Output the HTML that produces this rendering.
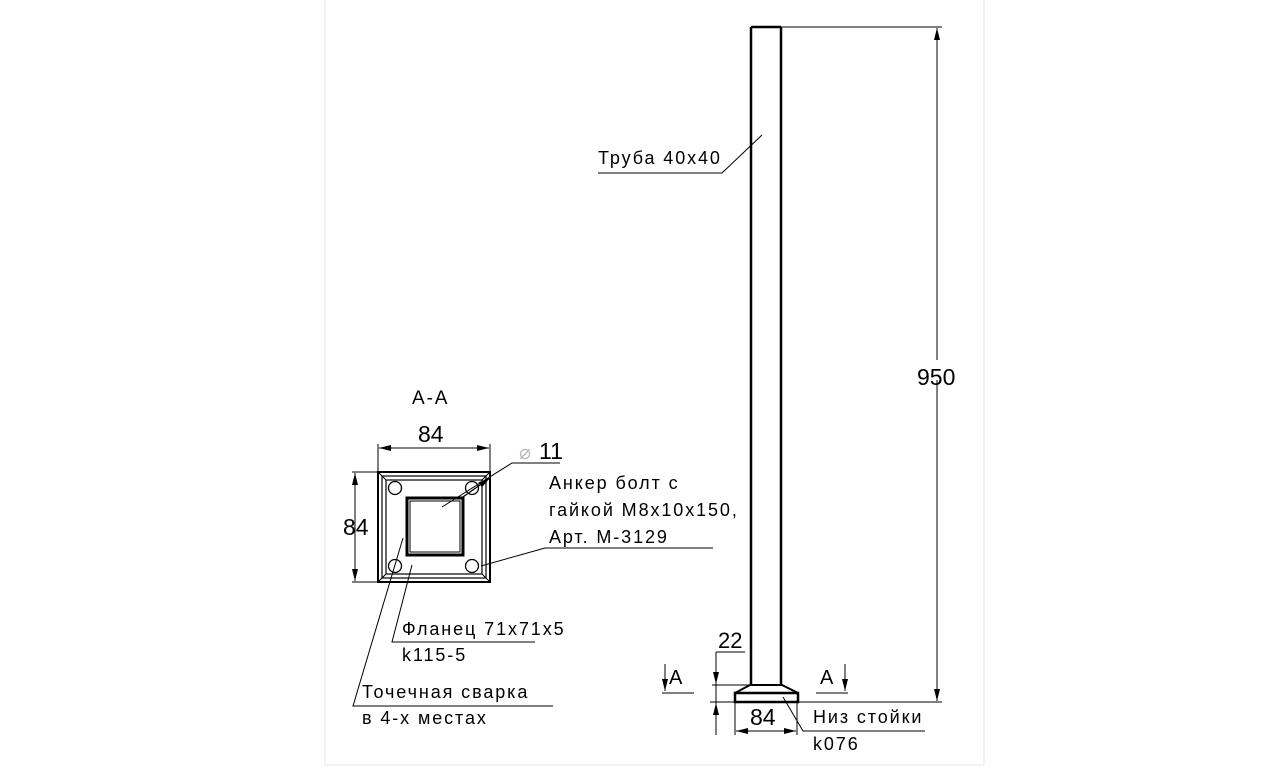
<!DOCTYPE html>
<html><head><meta charset="utf-8"><style>
html,body{margin:0;padding:0;background:#fff;}
svg{display:block}
text{font-family:"Liberation Sans",sans-serif;fill:#000;}
.l{letter-spacing:1.9px}
</style></head><body>
<svg width="1280" height="776" viewBox="0 0 1280 776" xmlns="http://www.w3.org/2000/svg">
<rect x="325" y="-2" width="659" height="767" fill="none" stroke="#eee" stroke-width="1.5"/>
<defs>
<marker id="a" markerWidth="12" markerHeight="6" refX="12" refY="3" orient="auto" markerUnits="userSpaceOnUse"><path d="M0,0 L12,3 L0,6z" fill="#000"/></marker>
</defs>
<g stroke="#000" fill="none">
<path d="M751,27 V685 M781,27 V685 M751,27 H781" stroke-width="2.5"/>
<path d="M750,685 H782 L798,693 H735 Z" stroke-width="2"/>
<rect x="735" y="693" width="63" height="9" stroke-width="2.5"/>
<path d="M781,27 H942 M798,702 H942 M710,702 H735" stroke-width="1"/>
<line x1="937" y1="360" x2="937" y2="28" stroke-width="1" marker-end="url(#a)"/>
<line x1="937" y1="380" x2="937" y2="701" stroke-width="1" marker-end="url(#a)"/>
<path d="M598,173 H722 L762,135" stroke-width="1"/>
<path d="M735,702 V735 M797,702 V735" stroke-width="1"/>
<line x1="766" y1="731" x2="736" y2="731" stroke-width="1" marker-end="url(#a)"/>
<line x1="766" y1="731" x2="796" y2="731" stroke-width="1" marker-end="url(#a)"/>
<path d="M783,697 L803,731 H925" stroke-width="1"/>
<path d="M712,685 H750 M716,652 H745 M716,652 V735" stroke-width="1"/>
<line x1="716" y1="660" x2="716" y2="684" stroke-width="1" marker-end="url(#a)"/>
<line x1="716" y1="730" x2="716" y2="703" stroke-width="1" marker-end="url(#a)"/>
<path d="M662,693 H694 M816,693 H848" stroke-width="1"/>
<line x1="665" y1="664" x2="665" y2="691" stroke-width="1" marker-end="url(#a)"/>
<line x1="845" y1="664" x2="845" y2="691" stroke-width="1" marker-end="url(#a)"/>
<rect x="378" y="472" width="112" height="110" stroke-width="2"/>
<rect x="382" y="476" width="104" height="102" stroke-width="1.2"/>
<rect x="386" y="480" width="96" height="94" stroke-width="1.2"/>
<path d="M378,472 L386,480 M490,472 L482,480 M378,582 L386,574 M490,582 L482,574" stroke-width="1"/>
<rect x="407" y="498" width="56" height="57" stroke-width="3"/>
<rect x="410" y="501" width="50" height="51" stroke-width="1"/>
<circle cx="395" cy="488" r="6.5" stroke-width="1.3"/>
<circle cx="472" cy="488" r="6.5" stroke-width="1.3"/>
<circle cx="395" cy="566" r="6.5" stroke-width="1.3"/>
<circle cx="472" cy="566" r="6.5" stroke-width="1.3"/>
<path d="M378,472 V444 M490,472 V444 M352,472 H378 M352,582 H378" stroke-width="1"/>
<line x1="434" y1="448" x2="379" y2="448" stroke-width="1" marker-end="url(#a)"/>
<line x1="434" y1="448" x2="489" y2="448" stroke-width="1" marker-end="url(#a)"/>
<line x1="355" y1="527" x2="355" y2="473" stroke-width="1" marker-end="url(#a)"/>
<line x1="355" y1="527" x2="355" y2="581" stroke-width="1" marker-end="url(#a)"/>
<path d="M442,507 L512,463 H560" stroke-width="1"/>
<line x1="460" y1="499" x2="490" y2="478" stroke-width="1.3" marker-end="url(#a)"/>
<path d="M481,566 L545,548 H713" stroke-width="1"/>
<path d="M412,565 L392,642 H535" stroke-width="1"/>
<path d="M403,538 L353,706 H553" stroke-width="1"/>
</g>
<g font-size="18">
<text class="l" x="598" y="164">Труба 40x40</text>
<text x="917" y="385" font-size="23">950</text>
<text x="750" y="725" font-size="23">84</text>
<text class="l" x="813" y="723">Низ стойки</text>
<text class="l" x="813" y="750">k076</text>
<text x="718" y="648" font-size="22">22</text>
<text x="669" y="684" font-size="20">A</text>
<text x="820" y="684" font-size="20">A</text>
<text class="l" x="412" y="404" font-size="19">A-A</text>
<text x="418" y="442" font-size="23">84</text>
<text x="343" y="535" font-size="23">84</text>
<text x="519" y="459" font-size="20" style="fill:#bbb">⌀</text>
<text x="539" y="459" font-size="23">11</text>
<text class="l" x="549" y="489">Анкер болт с</text>
<text class="l" x="549" y="516">гайкой М8x10x150,</text>
<text class="l" x="549" y="543">Арт. М-3129</text>
<text class="l" x="402" y="635">Фланец 71x71x5</text>
<text class="l" x="402" y="661">k115-5</text>
<text class="l" x="362" y="698">Точечная сварка</text>
<text class="l" x="362" y="724">в 4-х местах</text>
</g>
</svg>
</body></html>
